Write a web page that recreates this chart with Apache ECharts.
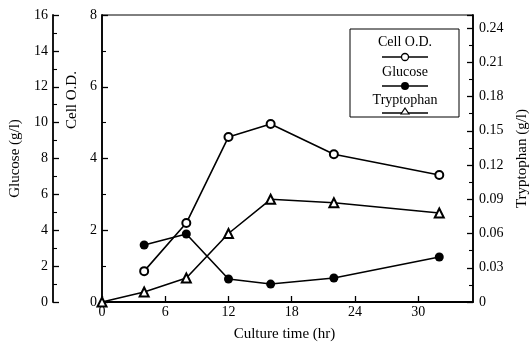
<!DOCTYPE html>
<html><head><meta charset="utf-8">
<script src="https://cdn.jsdelivr.net/npm/echarts@6/dist/echarts.min.js"></script>
<style>html,body{margin:0;padding:0;background:#fff}#c{width:531px;height:345px}</style>
</head><body><div id="c"></div>
<script>
const hours = [0, 4, 8, 12, 16, 22, 32];
const cellOD = [null, 0.86, 2.2, 4.6, 4.96, 4.12, 3.54];
const glucose = [null, 3.18, 3.79, 1.28, 1.0, 1.34, 2.51];
const tryptophan = [0, 0.0088, 0.021, 0.060, 0.090, 0.087, 0.078];
const seriesNames = ['Cell O.D.', 'Glucose', 'Tryptophan'];

const F = 'Liberation Serif';
const pair = (arr) => hours.map((h, i) => [h, arr[i]]).filter(p => p[1] !== null);
const axisLine = { show: true, lineStyle: { color: '#000', width: 1.8 } };
const tick = { show: true, inside: true, length: 6, lineStyle: { color: '#000', width: 1.3 } };
const minor = { show: true, splitNumber: 2, length: 4, lineStyle: { color: '#000', width: 1.1 } };
const lbl = { color: '#000', fontFamily: F, fontSize: 14 };
const nameStyle = { color: '#000', fontFamily: F, fontSize: 15 };

const chart = echarts.init(document.getElementById('c'));
chart.setOption({
  animation: false,
  backgroundColor: '#fff',
  grid: { left: 102, right: 58, top: 15, bottom: 43, show: true, borderColor: '#000', borderWidth: 1,
          containLabel: false, outerBoundsMode: 'none' },
  xAxis: {
    type: 'value', min: 0, max: 35.2, interval: 6,
    name: 'Culture time (hr)', nameLocation: 'middle', nameGap: 25,
    nameTextStyle: Object.assign({ padding: [0, 6, 0, 0] }, nameStyle),
    axisLine, axisTick: tick, splitLine: { show: false },
    axisLabel: Object.assign({ margin: 3, showMaxLabel: false }, lbl)
  },
  yAxis: [
    { type: 'value', position: 'left', min: 0, max: 8, interval: 2,
      axisLine, axisTick: tick, minorTick: minor, splitLine: { show: false },
      axisLabel: Object.assign({ margin: 5 }, lbl) },
    { type: 'value', position: 'left', offset: 49, min: 0, max: 16, interval: 2,
      name: 'Glucose (g/l)', nameLocation: 'middle', nameGap: 30, nameRotate: 90,
      nameTextStyle: nameStyle,
      axisLine, axisTick: tick, minorTick: minor, splitLine: { show: false },
      axisLabel: Object.assign({ margin: 5 }, lbl) },
    { type: 'value', position: 'right', min: 0, max: 0.2514, interval: 0.03,
      name: 'Tryptophan (g/l)', nameLocation: 'middle', nameGap: 40, nameRotate: 90,
      nameTextStyle: nameStyle,
      axisLine, axisTick: tick, minorTick: minor, splitLine: { show: false },
      axisLabel: Object.assign({ margin: 6, showMaxLabel: false,
        formatter: v => v === 0 ? '0' : v.toFixed(2) }, lbl) }
  ],
  series: [
    { name: seriesNames[0], type: 'line', yAxisIndex: 0, data: pair(cellOD),
      symbol: 'emptyCircle', symbolSize: 8,
      lineStyle: { color: '#000', width: 1.6 }, itemStyle: { color: '#000', borderColor: '#000', borderWidth: 1.3 } },
    { name: seriesNames[1], type: 'line', yAxisIndex: 1, data: pair(glucose),
      symbol: 'circle', symbolSize: 9,
      lineStyle: { color: '#000', width: 1.6 }, itemStyle: { color: '#000' } },
    { name: seriesNames[2], type: 'line', yAxisIndex: 2, data: pair(tryptophan),
      symbol: 'emptyTriangle', symbolSize: 9,
      lineStyle: { color: '#000', width: 1.6 }, itemStyle: { color: '#000', borderColor: '#000', borderWidth: 1.3 } }
  ],
  graphic: [
    { type: 'text', x: 72, y: 100, rotation: Math.PI / 2,
      style: { text: 'Cell O.D.', fill: '#000', font: '15px "Liberation Serif"', align: 'center', verticalAlign: 'middle' } },
    { type: 'rect', shape: { x: 350, y: 29, width: 109, height: 88 },
      style: { fill: '#fff', stroke: '#000', lineWidth: 1 }, z: 10 },
    { type: 'text', x: 405, y: 42, z: 11, style: { text: seriesNames[0], fill: '#000', font: '14px "Liberation Serif"', align: 'center', verticalAlign: 'middle' } },
    { type: 'line', z: 11, shape: { x1: 382, y1: 57, x2: 428, y2: 57 }, style: { stroke: '#000', lineWidth: 1.3 } },
    { type: 'circle', z: 12, shape: { cx: 405, cy: 57, r: 3.5 }, style: { fill: '#fff', stroke: '#000', lineWidth: 1.3 } },
    { type: 'text', x: 405, y: 72, z: 11, style: { text: seriesNames[1], fill: '#000', font: '14px "Liberation Serif"', align: 'center', verticalAlign: 'middle' } },
    { type: 'line', z: 11, shape: { x1: 382, y1: 86, x2: 428, y2: 86 }, style: { stroke: '#000', lineWidth: 1.3 } },
    { type: 'circle', z: 12, shape: { cx: 405, cy: 86, r: 4 }, style: { fill: '#000' } },
    { type: 'text', x: 405, y: 100, z: 11, style: { text: seriesNames[2], fill: '#000', font: '14px "Liberation Serif"', align: 'center', verticalAlign: 'middle' } },
    { type: 'line', z: 11, shape: { x1: 382, y1: 113, x2: 428, y2: 113 }, style: { stroke: '#000', lineWidth: 1.3 } },
    { type: 'polygon', z: 12, shape: { points: [[405, 108], [409, 114], [401, 114]] }, style: { fill: '#fff', stroke: '#000', lineWidth: 1.2 } }
  ]
});
</script></body></html>
